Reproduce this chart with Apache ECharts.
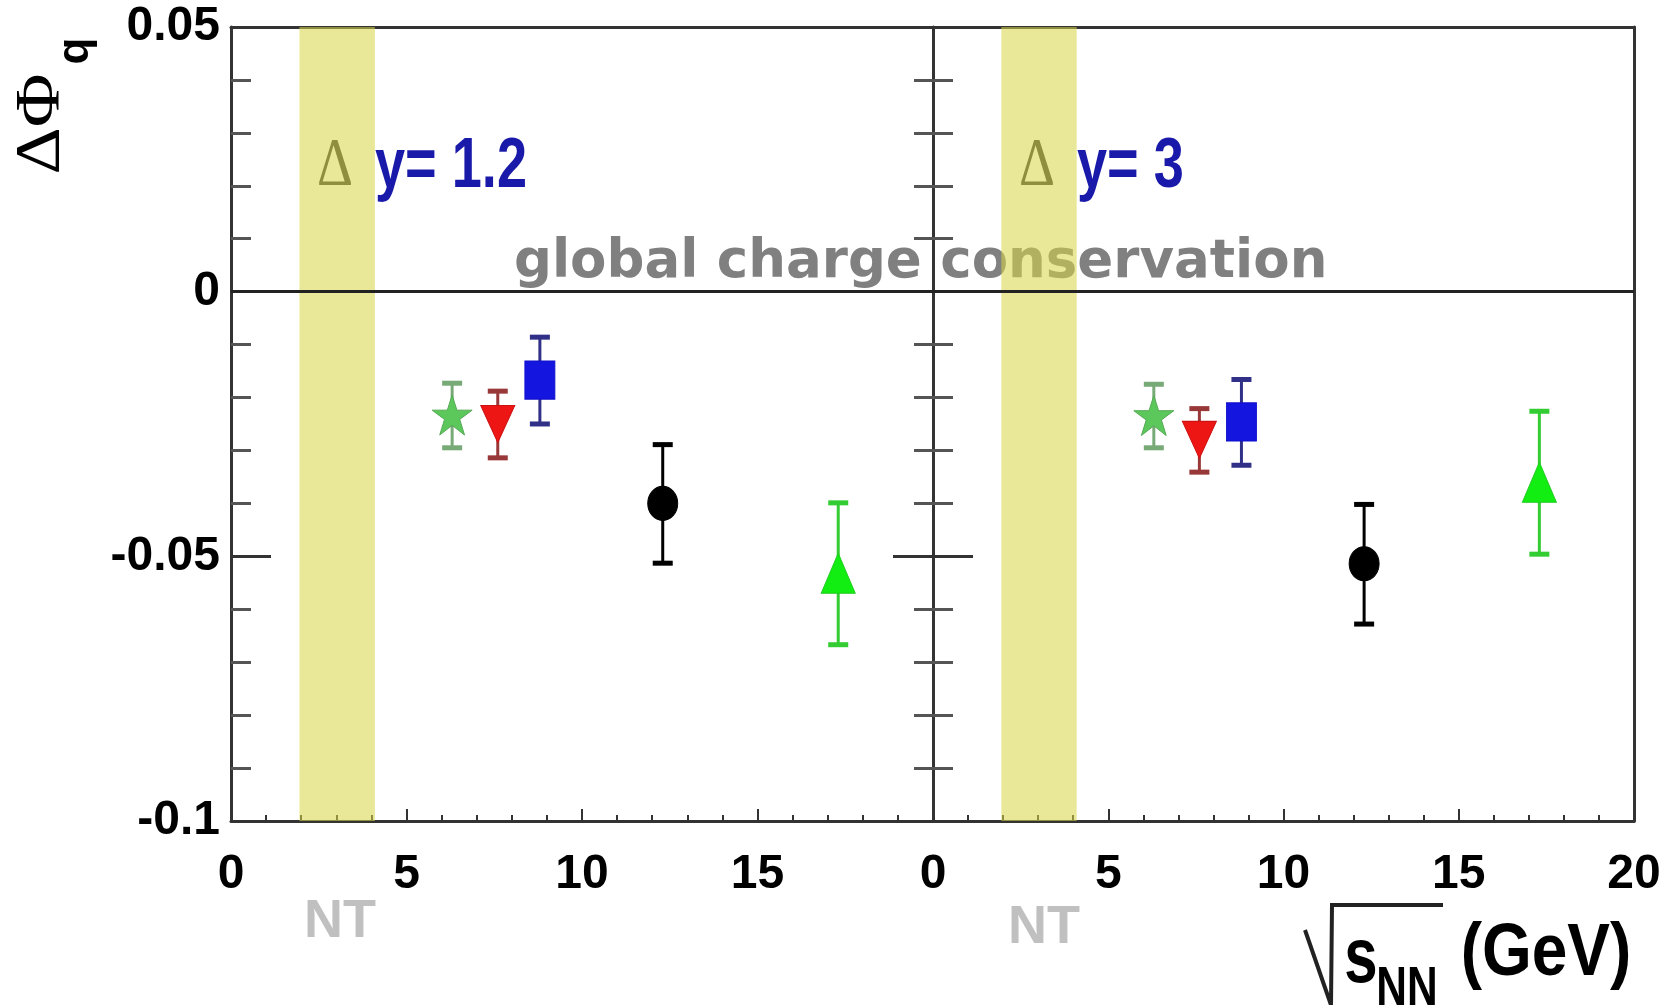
<!DOCTYPE html>
<html>
<head>
<meta charset="utf-8">
<script src="https://cdn.jsdelivr.net/npm/echarts@6/dist/echarts.min.js"></script>
<style>
html,body{margin:0;padding:0;background:#fff;}
#chart{width:1665px;height:1005px;}
</style>
</head>
<body>
<div id="chart"></div>
<script>
// ---- data ----
const energies = [6.3, 7.6, 8.8, 12.3, 17.3];          // sqrt(s_NN) GeV
const dy12Values = [-0.0233, -0.0250, -0.0167, -0.0400, -0.0532];
const dy12Errors = [0.0061, 0.0063, 0.0082, 0.0112, 0.0134];
const dy3Values  = [-0.0234, -0.0280, -0.0246, -0.0514, -0.0360];
const dy3Errors  = [0.0060, 0.0060, 0.0081, 0.0113, 0.0135];
const ntBand = [1.95, 4.1];
const xTicks = [0, 5, 10, 15, 20];
const yTickLabels = {'5': '0.05', '0': '0', '-5': '-0.05', '-10': '-0.1'};

// ---- styles ----
const STAR = 'path://M50,0 L62,36 L100,36 L69,58 L81,95 L50,72 L19,95 L31,58 L0,36 L38,36 Z';
const markerSymbols = [STAR, 'triangle', 'rect', 'circle', 'triangle'];
const markerRotate = [0, 180, 0, 0, 0];
const markerSizes = [[40, 40], [34, 37], [30, 38], [30, 34], [34, 40]];
const markerColors = ['#5cc85c', '#ee1515', '#1515e0', '#000000', '#12ee12'];
const markerBorders = ['#55aa55', '#cc1111', '#1111cc', '#000000', '#22cc22'];
const barColors = ['#77aa77', '#993838', '#303088', '#000000', '#33cc33'];

const NARROW = '"Liberation Sans Narrow", "Liberation Sans", Arial, sans-serif';
const SANS = '"Liberation Sans", Arial, sans-serif';
const AX = '#333';

function markerData(vals) {
  return energies.map((e, i) => ({
    value: [e, vals[i]],
    symbol: markerSymbols[i],
    symbolRotate: markerRotate[i],
    symbolSize: markerSizes[i],
    itemStyle: {color: markerColors[i], borderColor: markerBorders[i], borderWidth: 1, opacity: 1}
  }));
}
function errData(vals, errs) {
  return energies.map((e, i) => [e, vals[i], errs[i], i]);
}
function renderErr(params, api) {
  const x = api.value(0), y = api.value(1), e = api.value(2), ci = api.value(3);
  const top = api.coord([x, y + e]);
  const bot = api.coord([x, y - e]);
  const c = barColors[ci];
  const cw = 20;
  return {
    type: 'group',
    children: [
      {type: 'line', shape: {x1: top[0], y1: top[1], x2: bot[0], y2: bot[1]}, style: {stroke: c, lineWidth: 3}},
      {type: 'rect', shape: {x: top[0] - cw / 2, y: top[1] - 2, width: cw, height: 5}, style: {fill: c}},
      {type: 'rect', shape: {x: bot[0] - cw / 2, y: bot[1] - 2, width: cw, height: 5}, style: {fill: c}}
    ]
  };
}

function xAxisFor(g, showMax) {
  return {
    gridIndex: g, type: 'value', min: 0, max: 20, interval: 5,
    axisLine: {show: true, onZero: false, lineStyle: {color: AX, width: 3}},
    axisTick: {show: true, inside: true, length: 12, lineStyle: {color: AX, width: 2}},
    minorTick: {show: true, splitNumber: 5, length: 6, lineStyle: {color: AX, width: 2}},
    splitLine: {show: false},
    axisLabel: {
      show: true, showMaxLabel: showMax, margin: 30, fontSize: 48, fontWeight: 'bold',
      fontFamily: NARROW, color: '#000',
      formatter: v => (xTicks.indexOf(Math.round(v)) >= 0 ? String(Math.round(v)) : '')
    }
  };
}
function frameX(g) {
  return {gridIndex: g, type: 'value', min: 0, max: 20, position: 'top',
    axisLine: {show: true, onZero: false, lineStyle: {color: AX, width: 3}},
    axisTick: {show: false}, axisLabel: {show: false}, splitLine: {show: false}};
}
function yAxisFor(g, opts) {
  return Object.assign({
    gridIndex: g, type: 'value', min: -0.1, max: 0.05, interval: 0.05, position: 'left',
    axisLine: {show: true, onZero: false, lineStyle: {color: AX, width: 3}},
    axisTick: {show: true, inside: true, length: 40, lineStyle: {color: AX, width: 3}},
    minorTick: {show: true, splitNumber: 5, length: 20, lineStyle: {color: '#555', width: 3}},
    splitLine: {show: false},
    axisLabel: {show: false}
  }, opts);
}

const option = {
  backgroundColor: '#fff',
  animation: false,
  grid: [
    {left: 231, top: 27, width: 702, height: 794},
    {left: 933, top: 27, width: 701, height: 794}
  ],
  xAxis: [xAxisFor(0, false), xAxisFor(1, true), frameX(0), frameX(1)],
  yAxis: [
    yAxisFor(0, {axisLabel: {show: true, margin: 11, fontSize: 48, fontWeight: 'bold', fontFamily: NARROW, color: '#000',
      formatter: v => yTickLabels[String(Math.round(v * 100))] || ''}}),
    yAxisFor(1, {}),
    yAxisFor(1, {axisLine: {show: false}, axisTick: {show: true, inside: false, length: 40, lineStyle: {color: AX, width: 3}},
      minorTick: {show: true, splitNumber: 5, length: 19, lineStyle: {color: '#555', width: 3}}}),
    yAxisFor(1, {position: 'right', axisTick: {show: false}, minorTick: {show: false}})
  ],
  series: [
    // zero lines
    {type: 'line', xAxisIndex: 0, yAxisIndex: 0, data: [], z: 1, silent: true,
      markLine: {symbol: 'none', silent: true, label: {show: false}, lineStyle: {color: '#222', width: 3, type: 'solid'}, data: [{yAxis: 0}]}},
    {type: 'line', xAxisIndex: 1, yAxisIndex: 1, data: [], z: 1, silent: true,
      markLine: {symbol: 'none', silent: true, label: {show: false}, lineStyle: {color: '#222', width: 3, type: 'solid'}, data: [{yAxis: 0}]}},
    // NT bands (semi-transparent, on top of lines/text)
    {type: 'line', xAxisIndex: 0, yAxisIndex: 0, data: [], z: 5, silent: true,
      markArea: {silent: true, itemStyle: {color: 'rgba(214,214,71,0.56)'}, data: [[{xAxis: ntBand[0]}, {xAxis: ntBand[1]}]]}},
    {type: 'line', xAxisIndex: 1, yAxisIndex: 1, data: [], z: 5, silent: true,
      markArea: {silent: true, itemStyle: {color: 'rgba(214,214,71,0.56)'}, data: [[{xAxis: ntBand[0]}, {xAxis: ntBand[1]}]]}},
    // error bars
    {type: 'custom', xAxisIndex: 0, yAxisIndex: 0, z: 8, renderItem: renderErr, data: errData(dy12Values, dy12Errors)},
    {type: 'custom', xAxisIndex: 1, yAxisIndex: 1, z: 8, renderItem: renderErr, data: errData(dy3Values, dy3Errors)},
    // markers
    {type: 'scatter', xAxisIndex: 0, yAxisIndex: 0, z: 10, itemStyle: {opacity: 1}, data: markerData(dy12Values)},
    {type: 'scatter', xAxisIndex: 1, yAxisIndex: 1, z: 10, itemStyle: {opacity: 1}, data: markerData(dy3Values)}
  ],
  graphic: [
    // y-axis title
    {type: 'text', x: 42, y: 124, rotation: Math.PI / 2, scaleX: 1.15, z: 1,
      style: {text: 'ΔΦ', font: 'normal 64px "Liberation Serif", serif', fill: '#000', align: 'center', verticalAlign: 'middle'}},
    {type: 'text', x: 76, y: 51, rotation: Math.PI / 2, z: 1,
      style: {text: 'q', font: 'bold 44px ' + SANS, fill: '#000', align: 'center', verticalAlign: 'middle'}},
    // x-axis title
    {type: 'polyline', z: 1, shape: {points: [[1305, 930], [1331, 1005], [1332, 905], [1443, 905]]},
      style: {stroke: '#222', lineWidth: 4, fill: null}},
    {type: 'text', x: 1361, y: 960, scaleY: 1.3, z: 1,
      style: {text: 's', font: 'bold 60px ' + SANS, fill: '#000', align: 'center', verticalAlign: 'middle'}},
    {type: 'text', x: 1407, y: 990, scaleX: 0.85, scaleY: 1.1, z: 1,
      style: {text: 'NN', font: 'bold 50px ' + NARROW, fill: '#000', align: 'center', verticalAlign: 'middle'}},
    {type: 'text', x: 1546, y: 955, scaleY: 1.15, z: 1,
      style: {text: '(GeV)', font: 'bold 64px ' + SANS, fill: '#000', align: 'center', verticalAlign: 'middle'}},
    // panel labels
    {type: 'text', x: 335, y: 166, scaleY: 1.2, z: 1,
      style: {text: 'Δ', font: 'normal 56px "Liberation Serif", serif', fill: '#333', align: 'center', verticalAlign: 'middle'}},
    {type: 'text', x: 375, y: 167, scaleX: 0.82, scaleY: 1.08, z: 1,
      style: {text: 'y= 1.2', font: 'bold 66px ' + NARROW, fill: '#1a1aaa', align: 'left', verticalAlign: 'middle'}},
    {type: 'text', x: 1037, y: 166, scaleY: 1.2, z: 1,
      style: {text: 'Δ', font: 'normal 56px "Liberation Serif", serif', fill: '#333', align: 'center', verticalAlign: 'middle'}},
    {type: 'text', x: 1077, y: 167, scaleX: 0.82, scaleY: 1.08, z: 1,
      style: {text: 'y= 3', font: 'bold 66px ' + NARROW, fill: '#1a1aaa', align: 'left', verticalAlign: 'middle'}},
    {type: 'text', x: 514, y: 263, z: 1,
      style: {text: 'global charge conservation', font: 'bold 53px "DejaVu Sans", sans-serif', fill: '#808080', align: 'left', verticalAlign: 'middle'}},
    {type: 'text', x: 340, y: 922, z: 1,
      style: {text: 'NT', font: 'bold 54px ' + SANS, fill: '#c0c0c0', align: 'center', verticalAlign: 'middle'}},
    {type: 'text', x: 1044, y: 928, z: 1,
      style: {text: 'NT', font: 'bold 54px ' + SANS, fill: '#c0c0c0', align: 'center', verticalAlign: 'middle'}}
  ]
};

const chart = echarts.init(document.getElementById('chart'), null, {renderer: 'canvas'});
chart.setOption(option);
</script>
</body>
</html>
